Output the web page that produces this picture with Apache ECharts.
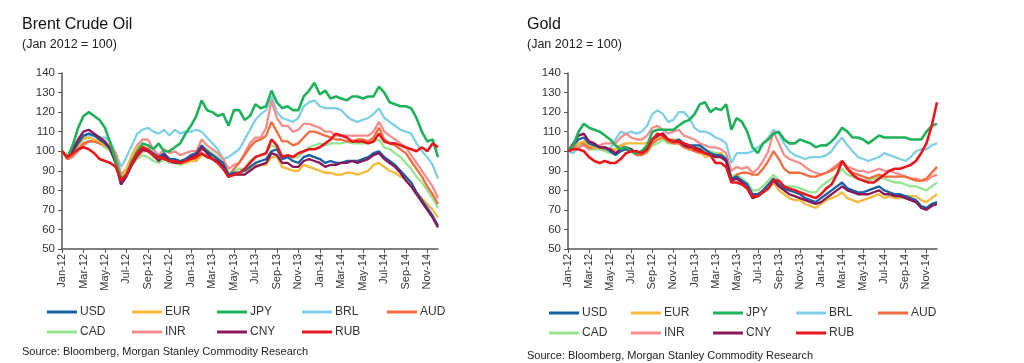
<!DOCTYPE html>
<html>
<head>
<meta charset="utf-8">
<script src="https://cdn.jsdelivr.net/npm/echarts@6/dist/echarts.min.js"></script>
<style>
html,body{margin:0;padding:0;background:#fff;}
#c{width:1024px;height:363px;}
</style>
</head>
<body>
<div id="c"></div>
<script>
// Month labels (tick labels), data points are semi-monthly (start and middle of each month)
const monthLabels = ['Jan-12','Feb-12','Mar-12','Apr-12','May-12','Jun-12','Jul-12','Aug-12','Sep-12','Oct-12','Nov-12','Dec-12',
  'Jan-13','Feb-13','Mar-13','Apr-13','May-13','Jun-13','Jul-13','Aug-13','Sep-13','Oct-13','Nov-13','Dec-13',
  'Jan-14','Feb-14','Mar-14','Apr-14','May-14','Jun-14','Jul-14','Aug-14','Sep-14','Oct-14','Nov-14','Dec-14'];

const currencies = ['USD','EUR','JPY','BRL','AUD','CAD','INR','CNY','RUB'];

// Brent Crude Oil (Jan 2012 = 100)
const brentUSD = [100,97,100,104,108,109,108,106,104,101,94,83,88,94,98,101,101,99,97,99,96,96,95,96,98,99,103,100,98,96,94,88,89,89,90,92,94,95,96,100,101,96,97,95,94,97,98,97,96,94,95,94,94,95,95,95,96,97,99,100,97,95,93,90,87,84,79,75,71,67,62];
const brentEUR = [100,97,99,103,107,107,106,105,103,102,96,86,91,98,102,103,100,97,96,97,95,94,94,94,95,95,98,98,97,95,93,87,88,88,88,91,93,93,93,97,97,92,91,90,90,93,92,91,90,89,89,88,88,89,89,88,89,90,93,94,92,90,89,87,86,84,79,76,73,70,66];
const brentJPY = [100,97,103,112,118,120,118,116,112,104,95,86,88,95,100,104,103,101,104,100,100,102,104,109,113,118,126,121,120,118,119,113,121,121,116,118,124,122,123,131,125,122,123,121,121,128,131,135,129,131,127,128,127,126,128,128,127,128,128,133,130,125,124,123,123,122,117,110,105,106,97];
const brentBRL = [100,97,101,104,107,108,108,107,107,105,99,92,97,103,109,111,112,110,109,111,108,111,109,110,110,111,110,107,104,101,96,97,99,101,106,111,116,119,121,128,120,117,116,115,117,123,125,126,123,122,122,122,121,118,116,115,116,117,119,122,117,115,113,111,110,109,104,100,97,93,86];
const brentAUD = [100,96,98,101,104,105,105,104,103,102,97,86,88,93,97,100,100,98,97,98,96,95,94,95,96,96,101,100,98,95,92,87,91,94,98,102,105,106,108,115,110,105,105,103,104,107,110,110,109,108,107,106,106,105,105,106,106,105,107,112,106,104,103,101,99,95,91,87,82,78,73];
const brentCAD = [100,97,99,103,106,107,106,104,102,100,95,85,88,93,96,98,97,95,94,96,94,94,93,94,96,98,102,101,99,97,94,89,90,91,91,95,97,98,99,103,102,97,98,97,97,100,102,103,104,103,104,104,104,105,104,104,104,104,105,106,102,101,99,97,94,91,87,84,80,76,71];
const brentINR = [100,96,97,100,103,105,105,104,104,103,99,88,91,98,103,106,106,101,98,101,99,100,98,99,100,100,106,103,101,99,96,91,93,94,99,104,107,107,112,126,117,113,113,110,111,114,114,113,112,110,110,108,108,108,108,108,108,108,110,115,110,108,106,104,102,98,94,90,86,82,76];
const brentCNY = [100,97,101,106,110,111,109,107,105,101,94,83,87,93,98,101,100,98,95,98,95,94,94,95,97,98,102,99,96,95,92,87,88,88,88,90,92,93,94,99,98,94,94,92,92,95,96,95,94,92,93,93,94,94,95,94,95,96,98,99,96,94,92,89,85,82,78,74,70,66,61];
const brentRUB = [100,97,99,101,102,101,99,96,95,94,92,85,88,94,99,102,101,98,97,96,95,95,94,95,96,97,99,97,96,94,91,87,88,89,91,94,97,98,99,106,103,97,98,97,99,100,101,101,102,104,106,109,108,107,105,105,105,104,105,109,105,104,104,103,102,101,100,102,100,104,102];

// Gold (Jan 2012 = 100)
const goldUSD = [100,103,106,107,104,103,102,102,100,98,100,101,100,99,100,102,106,108,109,106,105,106,104,103,103,103,101,99,98,98,96,86,87,85,83,78,78,80,83,86,83,81,80,79,78,76,75,74,76,78,80,82,84,81,80,79,79,80,81,82,80,79,78,78,77,76,75,72,71,73,74];
const goldEUR = [100,103,104,105,103,102,102,102,101,101,103,104,104,104,104,104,106,107,108,106,106,105,103,102,101,100,97,98,98,99,95,85,87,85,82,78,78,79,81,84,80,78,76,75,75,73,72,71,73,75,76,77,79,76,75,74,75,76,77,78,76,77,76,76,77,77,77,75,74,76,78];
const goldJPY = [100,103,110,114,112,111,110,108,106,103,101,102,100,99,100,103,110,111,111,111,111,113,115,116,119,124,125,120,122,121,124,111,117,115,110,102,99,104,106,109,110,106,104,104,106,105,104,102,103,103,105,108,112,110,107,107,106,104,106,108,107,107,107,107,107,106,106,106,110,113,114];
const goldBRL = [100,99,102,104,103,102,101,101,101,106,110,109,110,109,110,113,119,121,119,115,116,120,120,117,112,110,110,109,107,106,104,94,99,99,99,100,102,104,107,111,109,104,100,98,97,96,97,97,97,98,100,104,107,103,100,97,96,95,96,97,99,98,97,96,95,97,100,101,101,103,104];
const goldAUD = [100,102,104,104,102,102,102,101,101,101,103,102,100,98,98,100,104,106,107,105,104,104,102,101,100,99,99,98,98,97,95,85,88,89,89,88,88,91,95,100,96,91,89,89,89,88,87,87,88,89,90,92,95,91,89,88,87,86,87,88,87,87,87,87,87,86,85,85,86,89,92];
const goldCAD = [100,101,103,104,101,101,101,100,99,99,101,102,101,98,98,99,103,104,106,104,104,104,102,101,101,102,100,100,99,99,97,87,88,86,84,80,80,82,85,88,85,82,82,82,81,80,79,79,82,84,86,88,91,88,87,86,85,85,86,87,86,85,84,84,83,82,82,81,80,82,84];
const goldINR = [100,101,102,103,101,102,103,104,104,104,107,109,107,106,106,108,112,113,111,109,110,111,108,107,106,104,103,102,102,101,99,90,92,91,92,89,91,95,100,110,104,98,96,95,94,92,90,89,88,89,91,93,95,92,91,90,90,89,90,91,90,90,89,88,87,86,86,85,85,87,88];
const goldCNY = [100,104,108,109,105,104,102,102,101,99,101,102,101,99,100,102,106,108,109,106,105,105,103,102,102,101,99,98,97,97,95,85,86,84,81,76,77,79,81,85,82,80,78,77,76,75,74,73,74,76,78,80,82,80,79,78,78,78,79,80,78,78,77,77,76,75,74,71,70,72,73];
const goldRUB = [100,101,101,100,97,95,94,95,94,94,96,99,100,100,99,101,106,109,108,106,105,105,104,103,101,100,99,98,94,94,92,84,84,83,81,77,77,79,81,85,85,82,81,80,79,78,77,76,78,81,83,88,95,91,88,86,85,84,84,86,88,90,91,91,92,93,95,99,104,113,125];

const colors = {USD:'#1660a6', EUR:'#f6b93a', JPY:'#1db25a', BRL:'#7fd0e4', AUD:'#f36c3c',
                CAD:'#93e58f', INR:'#f68c8c', CNY:'#8a1858', RUB:'#e8171e'};

const brent = {USD:brentUSD, EUR:brentEUR, JPY:brentJPY, BRL:brentBRL, AUD:brentAUD, CAD:brentCAD, INR:brentINR, CNY:brentCNY, RUB:brentRUB};
const gold = {USD:goldUSD, EUR:goldEUR, JPY:goldJPY, BRL:goldBRL, AUD:goldAUD, CAD:goldCAD, INR:goldINR, CNY:goldCNY, RUB:goldRUB};

// semi-monthly categories: 1st and 15th of each month, Jan-12 .. Dec-14 (first half)
const categories = [];
monthLabels.forEach((m, i) => {
  categories.push(m);
  if (i < monthLabels.length - 1) categories.push(m + ' (mid)');
});

const font = 'Liberation Sans, Arial, sans-serif';
const axisColor = '#555555';
const labelColor = '#333333';

function xAxis(gi) {
  return {
    type:'category', gridIndex:gi, data:categories, boundaryGap:false,
    axisLine:{show:true, lineStyle:{color:axisColor, width:1.5}},
    axisTick:{show:true, interval:3, length:4, lineStyle:{color:axisColor, width:1}},
    axisLabel:{interval:3, rotate:90, fontSize:11, color:labelColor, fontFamily:font, margin:5},
    splitLine:{show:false}
  };
}
function yAxis(gi) {
  return {
    type:'value', gridIndex:gi, min:50, max:140, interval:10,
    axisLine:{show:true, lineStyle:{color:axisColor, width:1.5}},
    axisTick:{show:true, length:4, lineStyle:{color:axisColor, width:1}},
    axisLabel:{fontSize:11.5, color:labelColor, fontFamily:font, margin:7},
    splitLine:{show:false}
  };
}

const drawOrder = ['BRL','CAD','INR','AUD','EUR','USD','CNY','JPY','RUB'];
const series = [];
[brent, gold].forEach((set, gi) => {
  drawOrder.forEach(name => {
    series.push({
      name, type:'line', xAxisIndex:gi, yAxisIndex:gi, data:set[name],
      showSymbol:false, symbol:'none',
      lineStyle:{color:colors[name], width:(name === 'RUB' || name === 'JPY') ? 2.6 : 2.3},
      itemStyle:{color:colors[name]},
      emphasis:{disabled:true}
    });
  });
});

const row1 = ['USD','EUR','JPY','BRL','AUD'];
const row2 = ['CAD','INR','CNY','RUB'];
const legends = [];
function addLegends(cols, tops) {
  [row1, row2].forEach((row, r) => {
    row.forEach((name, c) => {
      legends.push({
        data:[name], left:cols[c], top:tops[r], padding:0, itemGap:0,
        itemWidth:30, itemHeight:3, icon:'rect', selectedMode:false,
        textStyle:{fontSize:12, color:'#333', fontFamily:font, padding:[0,0,0,-2]}
      });
    });
  });
}
addLegends([47,132,217,302,387], [306,326]);
addLegends([549,631,713,796,878], [307,327]);

function titleTexts(x, title, srcTop) {
  return [
    {text:title, left:x, top:17, padding:0, textStyle:{fontSize:16, fontWeight:'normal', color:'#111', fontFamily:font}},
    {text:'(Jan 2012 = 100)', left:x, top:38, padding:0, textStyle:{fontSize:12.5, fontWeight:'normal', color:'#222', fontFamily:font}},
    {text:'Source: Bloomberg, Morgan Stanley Commodity Research', left:x, top:srcTop, padding:0, textStyle:{fontSize:11, fontWeight:'normal', color:'#222', fontFamily:font}}
  ];
}

const option = {
  animation:false,
  backgroundColor:'#fff',
  title:[...titleTexts(22, 'Brent Crude Oil', 346), ...titleTexts(527, 'Gold', 350)],
  legend:legends,
  grid:[
    {left:62, top:73, width:376, height:176, containLabel:false},
    {left:568, top:73, width:369, height:176, containLabel:false}
  ],
  xAxis:[xAxis(0), xAxis(1)],
  yAxis:[yAxis(0), yAxis(1)],
  series
};

const chart = echarts.init(document.getElementById('c'), null, {renderer:'canvas'});
chart.setOption(option);
</script>
</body>
</html>
